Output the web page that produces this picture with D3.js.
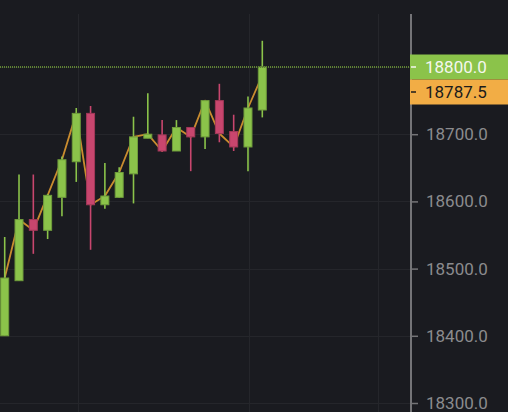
<!DOCTYPE html>
<html>
<head>
<meta charset="utf-8">
<script src="https://cdn.jsdelivr.net/npm/d3@7"></script>
<style>
  html, body { margin: 0; padding: 0; background: #1a1b20; overflow: hidden; }
  svg { display: block; font-family: Roboto, "Liberation Sans", sans-serif; }
</style>
</head>
<body>
<div id="chart"></div>
<script>
// candle data
const opens  = [18400, 18482, 18573, 18557, 18606, 18659, 18731, 18595, 18606, 18641, 18694, 18699, 18675, 18710, 18696, 18750, 18704, 18681, 18736];
const highs  = [18547, 18640, 18640, 18611, 18667, 18739, 18742, 18657, 18651, 18726, 18761, 18721, 18721, 18710, 18750, 18775, 18729, 18756, 18839];
const lows   = [18400, 18482, 18522, 18544, 18578, 18629, 18528, 18589, 18605, 18597, 18694, 18674, 18675, 18645, 18678, 18688, 18675, 18645, 18725];
const closes = [18486, 18573, 18557, 18609, 18662, 18731, 18595, 18608, 18643, 18696, 18700, 18675, 18710, 18696, 18750, 18701, 18681, 18739, 18800];
// orange price line (last point is the live price)
const lineValues = [18486, 18573, 18557, 18609, 18662, 18731, 18595, 18608, 18643, 18696, 18700, 18675, 18710, 18696, 18750, 18701, 18681, 18739, 18787.5];
const yTicks = [18300, 18400, 18500, 18600, 18700, 18800];
const timeGrid = [5.15, 17.1, 26.05];
const lastClose = 18800;
const livePrice = 18787.5;

const width = 508;
const height = 412;
const plotRight = 411;
const plotTop = 14;

const bgColor = '#1a1b20';
const gridColor = '#25262b';
const upColor = '#8bc34a';
const upBorder = '#6f9c3b';
const downColor = '#c8466e';
const downBorder = '#a23858';
const lineColor = '#c98c2f';
const axisColor = '#747477';
const labelColor = '#8b8b8e';
const tagHeight = 25;

const data = opens.map((o, i) => ({
  i, open: o, high: highs[i], low: lows[i], close: closes[i], line: lineValues[i]
}));

const xScale = d3.scaleLinear().domain([0, data.length - 1]).range([4.7, 262.3]);
const yScale = d3.scaleLinear().domain([18300, 18800]).range([403, 67]);
const bodyWidth = 9;

const svg = d3.select('#chart')
  .append('svg')
  .attr('width', width)
  .attr('height', height);

svg.append('rect')
  .attr('width', width)
  .attr('height', height)
  .attr('fill', bgColor);

svg.append('defs').append('clipPath')
  .attr('id', 'plot-clip')
  .append('rect')
  .attr('x', 0).attr('y', plotTop)
  .attr('width', plotRight).attr('height', height - plotTop);

const plot = svg.append('g').attr('clip-path', 'url(#plot-clip)');

// grid
plot.append('g')
  .selectAll('line')
  .data(yTicks)
  .join('line')
  .attr('x1', 0).attr('x2', plotRight)
  .attr('y1', d => Math.round(yScale(d)) + 0.5)
  .attr('y2', d => Math.round(yScale(d)) + 0.5)
  .attr('stroke', gridColor)
  .attr('stroke-width', 1);

plot.append('g')
  .selectAll('line')
  .data(timeGrid)
  .join('line')
  .attr('x1', d => Math.round(xScale(d)) + 0.5)
  .attr('x2', d => Math.round(xScale(d)) + 0.5)
  .attr('y1', plotTop).attr('y2', height)
  .attr('stroke', gridColor)
  .attr('stroke-width', 1);

// price line, under the candles
const line = d3.line()
  .x(d => xScale(d.i))
  .y(d => yScale(d.line));

plot.append('path')
  .datum(data)
  .attr('fill', 'none')
  .attr('stroke', lineColor)
  .attr('stroke-width', 1.8)
  .attr('stroke-linejoin', 'round')
  .attr('d', line);

// candles
const candle = plot.append('g')
  .selectAll('g')
  .data(data)
  .join('g');

candle.append('line')
  .attr('x1', d => xScale(d.i))
  .attr('x2', d => xScale(d.i))
  .attr('y1', d => yScale(d.high))
  .attr('y2', d => yScale(d.low))
  .attr('stroke', d => d.close >= d.open ? upColor : downColor)
  .attr('stroke-width', 1.6);

candle.append('rect')
  .attr('x', d => xScale(d.i) - bodyWidth / 2 + 0.5)
  .attr('y', d => yScale(Math.max(d.open, d.close)))
  .attr('width', bodyWidth - 1)
  .attr('height', d => Math.max(2, yScale(Math.min(d.open, d.close)) - yScale(Math.max(d.open, d.close))))
  .attr('fill', d => d.close >= d.open ? upColor : downColor)
  .attr('stroke', d => d.close >= d.open ? upBorder : downBorder)
  .attr('stroke-width', 1);

// last close dotted line
plot.append('line')
  .attr('x1', 0).attr('x2', plotRight)
  .attr('y1', yScale(lastClose)).attr('y2', yScale(lastClose))
  .attr('stroke', '#5f8234')
  .attr('stroke-width', 2)
  .attr('stroke-dasharray', '1,1');

// right axis
const axis = d3.axisRight(yScale)
  .tickValues(yTicks)
  .tickSize(7)
  .tickSizeOuter(0)
  .tickPadding(8)
  .tickFormat(d3.format('.1f'));

const axisG = svg.append('g')
  .attr('transform', `translate(${plotRight}, 0)`)
  .call(axis);

axisG.select('.domain').remove();
axisG.selectAll('.tick line').attr('stroke', axisColor).attr('stroke-width', 1.5);
axisG.selectAll('.tick text')
  .attr('fill', labelColor)
  .attr('font-size', '17px')
  .attr('font-family', 'Roboto, "Liberation Sans", sans-serif');

svg.append('line')
  .attr('x1', plotRight).attr('x2', plotRight)
  .attr('y1', plotTop).attr('y2', height)
  .attr('stroke', axisColor)
  .attr('stroke-width', 2);

// price tags
function priceTag(value, y, fill, textFill) {
  const g = svg.append('g').attr('transform', `translate(${plotRight - 1}, ${y})`);
  g.append('rect')
    .attr('x', 0).attr('y', -tagHeight / 2)
    .attr('width', width - plotRight + 1).attr('height', tagHeight)
    .attr('fill', fill);
  g.append('line')
    .attr('x1', 1).attr('x2', 6)
    .attr('y1', 0).attr('y2', 0)
    .attr('stroke', textFill)
    .attr('stroke-width', 1.5);
  g.append('text')
    .attr('x', 15).attr('y', 0)
    .attr('dy', '0.35em')
    .attr('fill', textFill)
    .attr('font-size', '17px')
    .text(d3.format('.1f')(value));
}

const closeY = yScale(lastClose);
const liveY = Math.max(yScale(livePrice), closeY + tagHeight);
priceTag(lastClose, closeY, '#8bc34a', '#f4f7ee');
priceTag(livePrice, liveY, '#f2ad45', '#1b1b1b');
</script>
</body>
</html>
